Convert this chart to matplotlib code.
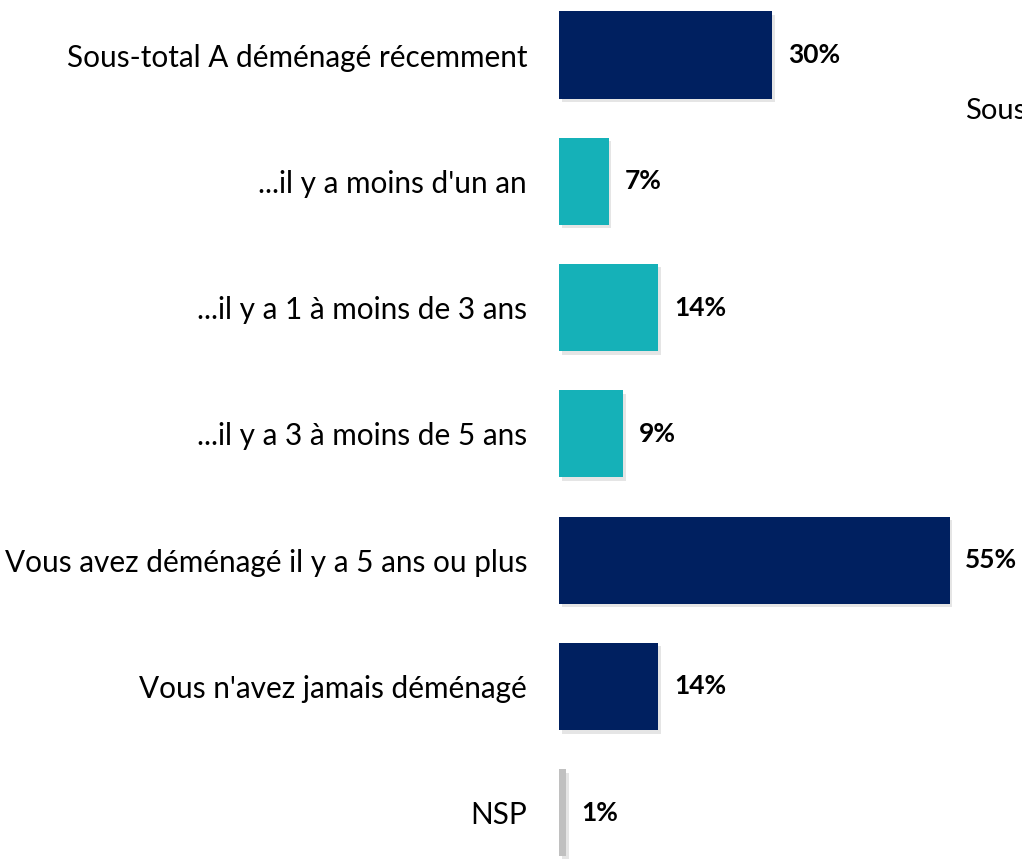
import matplotlib
matplotlib.use("Agg")
import matplotlib.pyplot as plt
import matplotlib.patheffects as pe

categories = [
    "Sous-total A déménagé récemment",
    "...il y a moins d'un an",
    "...il y a 1 à moins de 3 ans",
    "...il y a 3 à moins de 5 ans",
    "Vous avez déménagé il y a 5 ans ou plus",
    "Vous n'avez jamais déménagé",
    "NSP",
]
values = [30, 7, 14, 9, 55, 14, 1]
value_labels = ["30%", "7%", "14%", "9%", "55%", "14%", "1%"]
colors = ["#002060", "#15B1B8", "#15B1B8", "#15B1B8", "#002060", "#002060", "#C0C0C0"]

W, H = 1022, 859
fig = plt.figure(figsize=(W / 100, H / 100), dpi=100)
x0 = 559
ax = fig.add_axes([x0 / W, 0, 1 - x0 / W, 1])
px_per = 7.1
ax.set_xlim(0, (W - x0) / px_per)
c0, step = 55, 126.3
ax.set_ylim((H - c0) / step, -c0 / step)

ypos = list(range(len(categories)))
bars = ax.barh(ypos, values, height=0.69, color=colors, zorder=2)
for b in bars:
    b.set_path_effects([pe.SimplePatchShadow(offset=(2, -2.5), shadow_rgbFace="#000000", alpha=0.10), pe.Normal()])

for y, v, lab in zip(ypos, values, value_labels):
    ax.text(v + 2.2, y, lab, va="center", ha="left", fontsize=19, fontweight="bold",
            family="Lato", color="#000000")

ax.set_yticks(ypos)
ax.set_yticklabels(categories, fontsize=21.4, family="Lato", color="#000000")
ax.tick_params(axis="y", length=0, pad=23)
ax.set_xticks([])
for s in ax.spines.values():
    s.set_visible(False)

fig.text(965 / W, 1 - 111 / H, "Sous", fontsize=21, family="Lato", va="center", ha="left")

fig.savefig("out.png", dpi=100)
